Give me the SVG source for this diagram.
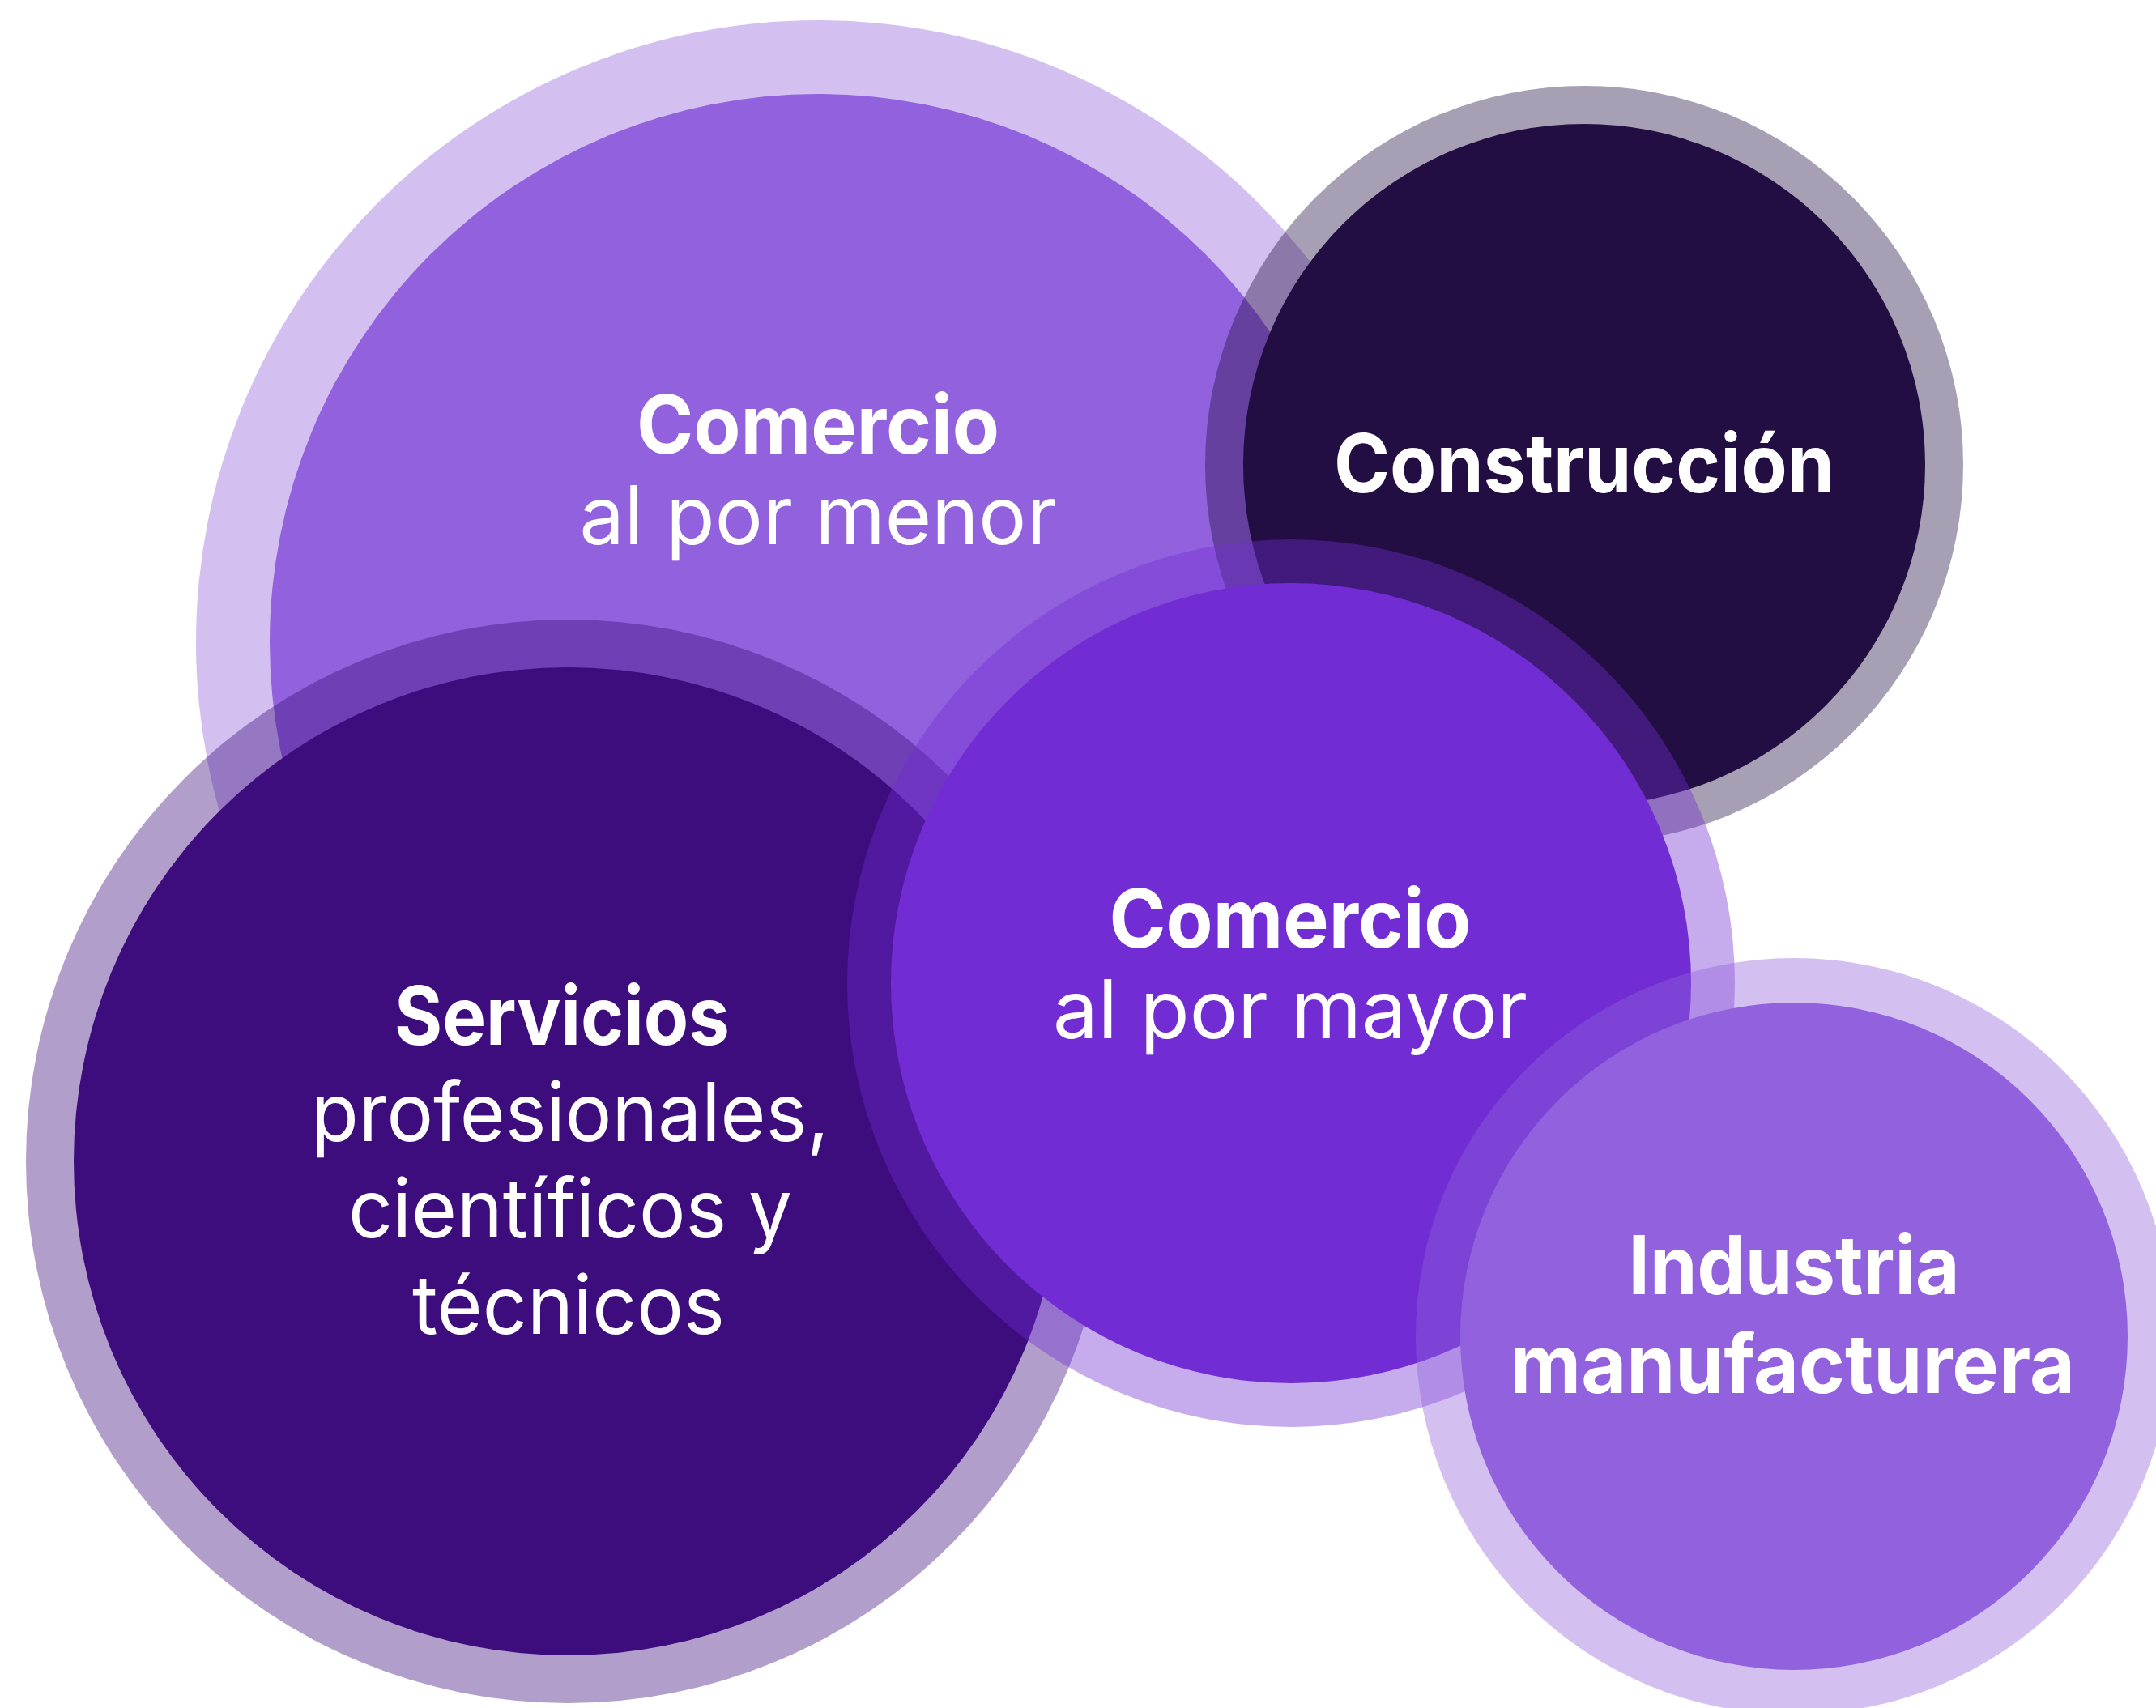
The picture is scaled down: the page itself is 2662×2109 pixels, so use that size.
<svg xmlns="http://www.w3.org/2000/svg" width="2662" height="2109" viewBox="0 0 2662 2109">
  <style>
    .ring { opacity: 0.4; }
    .b { font-family: Inter, "Noto Sans", "Liberation Sans", sans-serif; font-weight: 700; font-size: 100px; fill: #ffffff; text-anchor: middle; }
    .r { font-family: Inter, "Noto Sans", "Liberation Sans", sans-serif; font-weight: 400; font-size: 100px; fill: #ffffff; text-anchor: middle; }
    .c1 { fill: #9261DD; }
    .c2 { fill: #220E42; }
    .c3 { fill: #3D0C7D; }
    .c4 { fill: #712DD3; }
  </style>
  <rect width="2662" height="2109" fill="#ffffff"/>
  <g id="connectors"/>
  <g id="comercio-menor">
    <circle class="ring c1" cx="1010" cy="793" r="768"/>
    <circle class="c1" cx="1010" cy="793" r="677"/>
    <text class="b" x="1010" y="560" textLength="448" lengthAdjust="spacingAndGlyphs">Comercio</text>
    <text class="r" x="1010" y="672" textLength="589" lengthAdjust="spacingAndGlyphs">al por menor</text>
  </g>
  <g id="construccion">
    <circle class="ring c2" cx="1956" cy="574" r="468"/>
    <circle class="c2" cx="1956" cy="574" r="421"/>
    <text class="b" x="1956" y="608" textLength="618" lengthAdjust="spacingAndGlyphs">Construcción</text>
  </g>
  <g id="servicios">
    <circle class="ring c3" cx="701" cy="1434" r="669"/>
    <circle class="c3" cx="701" cy="1434" r="610"/>
    <text class="b" x="694" y="1290" textLength="414" lengthAdjust="spacingAndGlyphs">Servicios</text>
    <text class="r" x="704" y="1409" textLength="640" lengthAdjust="spacingAndGlyphs">profesionales,</text>
    <text class="r" x="704" y="1528" textLength="548" lengthAdjust="spacingAndGlyphs">científicos y</text>
    <text class="r" x="702" y="1647" textLength="386" lengthAdjust="spacingAndGlyphs">técnicos</text>
  </g>
  <g id="comercio-mayor">
    <circle class="ring c4" cx="1594" cy="1214" r="548"/>
    <circle class="c4" cx="1594" cy="1214" r="494"/>
    <text class="b" x="1593" y="1170" textLength="447" lengthAdjust="spacingAndGlyphs">Comercio</text>
    <text class="r" x="1593" y="1282" textLength="586" lengthAdjust="spacingAndGlyphs">al por mayor</text>
  </g>
  <g id="industria">
    <circle class="ring c1" cx="2215" cy="1650" r="467"/>
    <circle class="c1" cx="2215" cy="1650" r="412"/>
    <text class="b" x="2215" y="1598" textLength="409" lengthAdjust="spacingAndGlyphs">Industria</text>
    <text class="b" x="2213" y="1720" textLength="698" lengthAdjust="spacingAndGlyphs">manufacturera</text>
  </g>
</svg>
